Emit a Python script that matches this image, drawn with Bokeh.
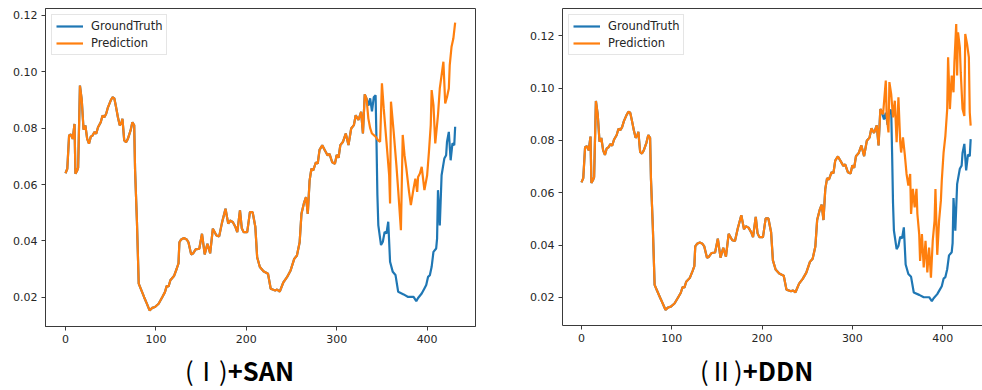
from bokeh.plotting import figure
from bokeh.layouts import row, column
from bokeh.models import (FixedTicker, PrintfTickFormatter, Legend, LegendItem,
                          LinearAxis, Div, Range1d)
from bokeh.embed import file_html
from bokeh.resources import INLINE

# ---------------- data ----------------
x_ticks = [0, 100, 200, 300, 400]
y_ticks = [0.02, 0.04, 0.06, 0.08, 0.10, 0.12]
series_names = ["GroundTruth", "Prediction"]
caption_marks = ["(Ⅰ)", "(Ⅱ)"]
caption_names = ["+SAN", "+DDN"]

gt_x = [0, 2, 4, 6, 8, 10, 11, 13, 14, 16, 18, 20, 22, 24, 26, 28, 30, 32, 34, 36,
        39, 41, 43, 45, 47, 50, 52, 54, 56, 58, 60, 62, 63, 65, 67, 69, 72, 74, 76, 77,
        79, 81, 84, 87, 90, 93, 96, 99, 103, 107, 110, 112, 114, 116, 120, 123, 125, 126, 128, 131,
        134, 136, 139, 141, 144, 148, 151, 154, 157, 160, 163, 167, 170, 173, 177, 180, 182, 185, 188, 190,
        193, 195, 197, 201, 204, 207, 210, 212, 215, 219, 224, 227, 232, 234, 237, 241, 245, 249, 253, 256,
        259, 261, 264, 266, 268, 270, 272, 274, 277, 279, 281, 284, 287, 290, 292, 295, 298, 300, 302, 304,
        307, 310, 313, 316, 319, 321, 324, 327, 329, 331, 333, 335, 337, 339, 341, 343, 344, 345, 346, 349,
        351, 353, 355, 357, 359, 362, 365, 368, 374, 379, 385, 388, 390, 394, 397, 399, 401, 403, 405, 407,
        410, 411, 412, 414, 416, 419, 421, 422, 424, 426, 428, 430, 431]
gt_y = [0.0640, 0.0656, 0.0774, 0.0778, 0.0762, 0.0815, 0.0638, 0.0650, 0.0660, 0.0951,
        0.0900, 0.0795, 0.0810, 0.0762, 0.0745, 0.0770, 0.0774, 0.0786, 0.0780, 0.0803,
        0.0821, 0.0845, 0.0839, 0.0851, 0.0874, 0.0898, 0.0910, 0.0906, 0.0874, 0.0839,
        0.0810, 0.0821, 0.0833, 0.0756, 0.0750, 0.0762, 0.0792, 0.0821, 0.0810, 0.0650,
        0.0472, 0.0248, 0.0224, 0.0200, 0.0177, 0.0153, 0.0162, 0.0165, 0.0177, 0.0200,
        0.0218, 0.0240, 0.0238, 0.0260, 0.0275, 0.0301, 0.0320, 0.0395, 0.0405, 0.0410,
        0.0405, 0.0395, 0.0352, 0.0355, 0.0370, 0.0372, 0.0425, 0.0352, 0.0390, 0.0356,
        0.0443, 0.0419, 0.0416, 0.0463, 0.0514, 0.0461, 0.0472, 0.0467, 0.0449, 0.0431,
        0.0508, 0.0445, 0.0431, 0.0431, 0.0502, 0.0502, 0.0449, 0.0342, 0.0307, 0.0292,
        0.0283, 0.0230, 0.0224, 0.0227, 0.0220, 0.0253, 0.0271, 0.0295, 0.0336, 0.0348,
        0.0395, 0.0496, 0.0537, 0.0555, 0.0496, 0.0614, 0.0656, 0.0650, 0.0679, 0.0674,
        0.0723, 0.0739, 0.0721, 0.0703, 0.0709, 0.0679, 0.0674, 0.0705, 0.0695, 0.0740,
        0.0752, 0.0781, 0.0740, 0.0799, 0.0811, 0.0846, 0.0829, 0.0858, 0.0781, 0.0920,
        0.0905, 0.0880, 0.0906, 0.0860, 0.0910, 0.0917, 0.0752, 0.0562, 0.0456, 0.0385,
        0.0397, 0.0432, 0.0426, 0.0468, 0.0326, 0.0290, 0.0279, 0.0219, 0.0210, 0.0201,
        0.0201, 0.0186, 0.0197, 0.0213, 0.0231, 0.0243, 0.0272, 0.0278, 0.0308, 0.0361,
        0.0373, 0.0408, 0.0580, 0.0455, 0.0633, 0.0692, 0.0704, 0.0752, 0.0787, 0.0686,
        0.0746, 0.0740, 0.0805]

# SAN prediction after it leaves the ground truth
san_x = [335, 337, 339, 343, 346, 348, 350, 352, 355, 358, 359, 360, 363, 366, 368, 371,
         373, 375, 377, 380, 382, 385, 387, 389, 390, 392, 394, 397, 400, 402, 404, 405,
         407, 409, 412, 414, 416, 418, 420, 422, 424, 425, 427, 429, 431]
san_y = [0.0834, 0.0800, 0.0781, 0.0770, 0.0756, 0.0752, 0.0959, 0.0870, 0.0752, 0.0633,
         0.0533, 0.0894, 0.0787, 0.0669, 0.0580, 0.0438, 0.0776, 0.0704, 0.0657, 0.0574,
         0.0527, 0.0586, 0.0621, 0.0574, 0.0627, 0.0639, 0.0663, 0.0580, 0.0633, 0.0716,
         0.0811, 0.0935, 0.0882, 0.0746, 0.0846, 0.0941, 0.0988, 0.1036, 0.0888, 0.0911,
         0.0941, 0.1024, 0.1089, 0.1118, 0.1175]

# DDN prediction after it leaves the ground truth
ddn_x = [334, 337, 338, 340, 341, 343, 345, 347, 349, 351, 353, 354, 356, 358, 360, 362,
         364, 365, 367, 369, 371, 372, 374, 375, 377, 379, 381, 383, 385, 387, 389, 391,
         392, 394, 396, 398, 399, 401, 403, 405, 406, 408, 410, 412, 413, 415, 416, 417,
         419, 420, 422, 424, 425, 427, 429, 430, 431]
ddn_y = [0.0901, 0.1029, 0.0894, 0.0831, 0.1023, 0.0977, 0.0888, 0.0952, 0.0793, 0.0965,
         0.0793, 0.0754, 0.0812, 0.0748, 0.0672, 0.0628, 0.0672, 0.0519, 0.0615, 0.0544,
         0.0615, 0.0519, 0.0442, 0.0340, 0.0442, 0.0315, 0.0417, 0.0296, 0.0391, 0.0276,
         0.0417, 0.0493, 0.0614, 0.0363, 0.0493, 0.0570, 0.0646, 0.0754, 0.0818, 0.0920,
         0.1118, 0.0920, 0.1048, 0.0984, 0.1099, 0.1245, 0.1048, 0.1213, 0.1156, 0.1061,
         0.0920, 0.0894, 0.1207, 0.1169, 0.1118, 0.0907, 0.0857]

BLUE = "#1f77b4"
ORANGE = "#ff7f0e"
INK = "#262626"
SPINE = "#3a3a3a"
FONT = "DejaVu Sans"
TICK_SIZE = "11px"


def prediction(tail_x, tail_y):
    head = [(x, y) for x, y in zip(gt_x, gt_y) if x < tail_x[0]]
    return [h[0] for h in head] + list(tail_x), [h[1] for h in head] + list(tail_y)


def style_axis(ax):
    ax.axis_line_color = SPINE
    ax.axis_line_width = 1
    ax.major_tick_line_color = SPINE
    ax.major_tick_out = 4
    ax.major_tick_in = 0
    ax.minor_tick_out = 0
    ax.minor_tick_in = 0
    ax.major_label_standoff = 4
    ax.major_label_text_font = FONT
    ax.major_label_text_font_size = TICK_SIZE
    ax.major_label_text_color = INK


def panel(tail_x, tail_y, x_rng, y_rng, fw, fh, bl, br, bt, bb, full_box):
    p = figure(output_backend="svg", toolbar_location=None,
               frame_width=fw, frame_height=fh,
               min_border_left=bl, min_border_right=br,
               min_border_top=bt, min_border_bottom=bb,
               x_range=Range1d(*x_rng), y_range=Range1d(*y_rng),
               background_fill_color="white", border_fill_color="white")
    p.xgrid.visible = False
    p.ygrid.visible = False
    p.xaxis.ticker = FixedTicker(ticks=x_ticks)
    p.yaxis.ticker = FixedTicker(ticks=y_ticks)
    p.yaxis.formatter = PrintfTickFormatter(format="%.2f")
    style_axis(p.xaxis[0])
    style_axis(p.yaxis[0])
    if full_box:
        p.outline_line_color = SPINE
        p.outline_line_width = 1
    else:
        p.outline_line_color = None
        top = LinearAxis(ticker=FixedTicker(ticks=[]))
        top.axis_line_color = SPINE
        top.major_tick_out = 0
        top.major_tick_in = 0
        top.minor_tick_out = 0
        top.minor_tick_in = 0
        top.major_label_standoff = 0
        p.add_layout(top, "above")

    px, py = prediction(tail_x, tail_y)
    r_gt = p.line(gt_x, gt_y, line_color=BLUE, line_width=2.2)
    r_pr = p.line(px, py, line_color=ORANGE, line_width=2.2)

    leg = Legend(items=[LegendItem(label=series_names[0], renderers=[r_gt]),
                        LegendItem(label=series_names[1], renderers=[r_pr])],
                 location="top_left")
    leg.margin = 6
    leg.padding = 4
    leg.spacing = 3
    leg.label_height = 14
    leg.glyph_height = 14
    leg.glyph_width = 27
    leg.label_standoff = 8
    leg.label_text_font = FONT
    leg.label_text_font_size = "11.5px"
    leg.label_text_color = INK
    leg.border_line_color = "#cccccc"
    leg.border_line_width = 1
    leg.background_fill_alpha = 0.8
    p.add_layout(leg)
    return p


# left: frame x 45..475, y 8..326 ; right: frame x 562..982, y 6..323
p1 = panel(san_x, san_y, (-22.1, 453.5), (0.0096, 0.12248), 430, 318, 45, 42, 8, 25, True)
p2 = panel(ddn_x, ddn_y, (-21.0, 444.1), (0.0093, 0.13043), 420, 317, 45, 0, 6, 28, False)


def caption(left, mark, name):
    return ('<span style="position:absolute;left:%dpx;top:7px;white-space:nowrap;">'
            '<span style="font-weight:400;">%s</span>'
            '<span style="font-weight:700;">%s</span></span>' % (left, mark, name))


html = ('<div style="position:relative;width:982px;height:35px;'
        "font-family:'Noto Sans CJK SC';font-size:25.5px;line-height:24px;color:#000;\">"
        + caption(185, caption_marks[0], caption_names[0])
        + caption(700, caption_marks[1], caption_names[1])
        + '</div>')
cap = Div(text=html, width=982, height=35, margin=0)

layout = column(row(p1, p2), cap)
open("out.html", "w").write(file_html(layout, INLINE))
